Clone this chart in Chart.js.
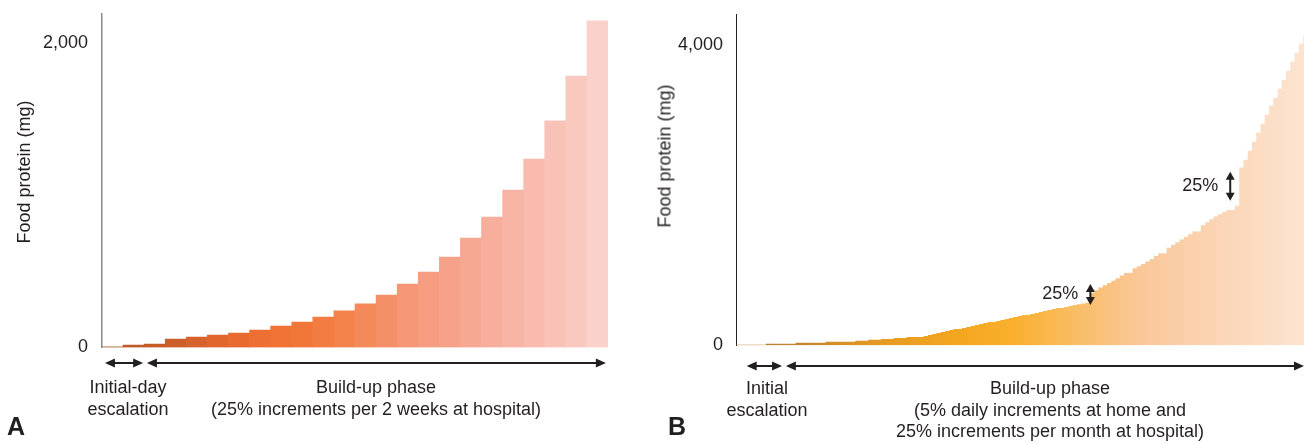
<!DOCTYPE html>
<html>
<head>
<meta charset="utf-8">
<script src="https://cdn.jsdelivr.net/npm/chart.js@4.4.1/dist/chart.umd.min.js"></script>
<style>
  body { margin: 0; background: #fff; }
  #wrap { position: relative; width: 1304px; height: 444px; overflow: hidden;
          font-family: "Liberation Sans", Arial, sans-serif; color: #231f20; }
  canvas { position: absolute; top: 0; }
  .txt { position: absolute; font-size: 18px; line-height: 21.5px; text-align: center;
         white-space: nowrap; transform: translateX(-50%); }
  .ytitle { position: absolute; font-size: 18px; white-space: nowrap;
            transform: translate(-50%, -50%) rotate(-90deg); }
  .panel { position: absolute; font-size: 25px; font-weight: bold; line-height: 25px; }
</style>
</head>
<body>
<div id="wrap">
  <canvas id="chartA" width="640" height="444" style="left:0"></canvas>
  <canvas id="chartB" width="664" height="444" style="left:640px"></canvas>

  <div class="ytitle" style="left:24px; top:172px">Food protein (mg)</div>
  <div class="ytitle" style="left:665px; top:156px">Food protein (mg)</div>

  <div class="txt" style="left:128px; top:377px">Initial-day<br>escalation</div>
  <div class="txt" style="left:376px; top:377px">Build-up phase<br>(25% increments per 2 weeks at hospital)</div>
  <div class="txt" style="left:767px; top:378px">Initial<br>escalation</div>
  <div class="txt" style="left:1050px; top:378px">Build-up phase<br>(5% daily increments at home and<br>25% increments per month at hospital)</div>

  <div class="panel" style="left:7px; top:414px">A</div>
  <div class="panel" style="left:668px; top:414px">B</div>
</div>

<script>
const ink = '#231f20';

// Panel A: one bar per hospital dose step
const doseStepA = [1, 2, 3, 4, 5, 6, 7, 8, 9, 10, 11, 12, 13, 14, 15, 16, 17, 18, 19, 20, 21, 22, 23, 24];
const proteinA = [5, 16, 23, 56, 69, 82, 95, 115, 141, 167, 200, 240,
                  286, 345, 417, 496, 594, 719, 857, 1034, 1238, 1488, 1783, 2145];
const tickValuesA = [0, 2000];

// Panel B: dose (mg) from the given day onwards
const dayB = [0, 7, 14, 21, 28, 31, 34, 37, 40, 44, 45, 46, 47, 48, 49, 50, 51,
              53, 54, 55, 56, 57, 58, 59, 61, 62, 63, 64, 65, 66, 67,
              69, 70, 71, 72, 73, 74, 75, 77, 78, 79, 80, 81, 82,
              83, 84, 85, 86, 87, 88, 89, 90, 91, 93, 94, 95, 96, 97, 98, 99,
              101, 102, 103, 104, 105, 106, 107, 109, 110, 111, 112, 113, 114, 115, 117,
              118, 119, 120, 121, 122, 123, 124, 125, 126, 127, 128, 129, 130, 131, 132, 133];
const proteinB = [10, 24, 37, 51, 64, 77, 87, 100, 113, 126, 140, 153, 166, 180, 193, 206, 220,
                  233, 246, 260, 273, 286, 300, 313, 326, 340, 353, 366, 380, 393, 406,
                  420, 433, 446, 460, 473, 486, 499, 513, 526, 540, 550, 560, 570,
                  700, 735, 770, 800, 830, 860, 895, 930, 965, 1028, 1055, 1085, 1116, 1150, 1190, 1228,
                  1300, 1340, 1375, 1410, 1445, 1480, 1515, 1600, 1640, 1680, 1715, 1745, 1775, 1804, 1860,
                  2368, 2470, 2590, 2710, 2830, 2949, 3069, 3189, 3296, 3415, 3535, 3655, 3775, 3895, 4015, 4121];
const tickValuesB = [0, 4000];

// colours
const barColorsA = ['#b45e2c', '#c05a28', '#c65b28', '#cd5e29', '#d8622b', '#e0662d', '#e86a2f', '#ee6f33',
                    '#f07334', '#f17738', '#f27c42', '#f3824b', '#f48a5a', '#f49068', '#f59674', '#f69c80',
                    '#f6a28a', '#f7a893', '#f7ae9c', '#f8b5a6', '#f8bbae', '#f9c2b7', '#f9c9c0', '#fad2cb'];
const fadeStopsB = [[0, '#b47a34'], [0.11, '#c48530'], [0.25, '#e49a22'], [0.40, '#f6a720'],
                    [0.49, '#f9b02e'], [0.60, '#f9bd66'], [0.71, '#fac798'], [0.88, '#fbd8bb'], [1, '#fde4d1']];

Chart.defaults.font.family = '"Liberation Sans", Arial, sans-serif';
Chart.defaults.font.size = 18;
Chart.defaults.color = ink;

function head(ctx, tx, ty, dx, dy, len, half) {
  // filled triangle with tip at (tx, ty) pointing along (dx, dy)
  ctx.beginPath();
  ctx.moveTo(tx, ty);
  ctx.lineTo(tx - dx * len - dy * half, ty - dy * len + dx * half);
  ctx.lineTo(tx - dx * len + dy * half, ty - dy * len - dx * half);
  ctx.closePath();
  ctx.fill();
}

const phaseArrows = {
  id: 'phaseArrows',
  afterDraw(chart, args, opts) {
    const {ctx, scales: {x, y}} = chart;
    ctx.save();
    ctx.strokeStyle = ink;
    ctx.fillStyle = ink;
    ctx.lineWidth = 2;
    (opts.spans || []).forEach(([a, b]) => {
      const x0 = x.getPixelForValue(a), x1 = x.getPixelForValue(b);
      ctx.beginPath();
      ctx.moveTo(x0 + 6, opts.y);
      ctx.lineTo(x1 - 6, opts.y);
      ctx.stroke();
      head(ctx, x0, opts.y, -1, 0, 10, 4.5);
      head(ctx, x1, opts.y, 1, 0, 10, 4.5);
    });
    (opts.marks || []).forEach(m => {
      const px = x.getPixelForValue(m.x);
      const yLow = y.getPixelForValue(m.from), yHigh = y.getPixelForValue(m.to);
      ctx.beginPath();
      ctx.moveTo(px, yLow - 5);
      ctx.lineTo(px, yHigh + 5);
      ctx.stroke();
      head(ctx, px, yHigh, 0, -1, 8, 4.5);
      head(ctx, px, yLow, 0, 1, 8, 4.5);
      ctx.font = '18px "Liberation Sans", Arial, sans-serif';
      ctx.textAlign = 'right';
      ctx.textBaseline = 'middle';
      ctx.fillText(m.label, px - 12, (yLow + yHigh) / 2);
    });
    ctx.restore();
  }
};

function yAxis(max, ticks, width, pad, borderColor, borderWidth) {
  return {
    min: 0,
    max: max,
    afterBuildTicks: (axis) => { axis.ticks = ticks.map(v => ({value: v})); },
    afterFit: (scale) => {
      scale.width = width;
      scale.paddingTop = 0;
      scale.paddingBottom = 0;
    },
    grid: {display: false, drawTicks: false},
    border: {display: true, color: borderColor, width: borderWidth},
    ticks: {padding: pad, color: ink, callback: (v) => v.toLocaleString('en-US')}
  };
}

new Chart(document.getElementById('chartA'), {
  type: 'bar',
  data: {
    labels: doseStepA,
    datasets: [{
      data: proteinA,
      backgroundColor: barColorsA,
      borderWidth: 0,
      barPercentage: 1,
      categoryPercentage: 1
    }]
  },
  options: {
    responsive: false,
    animation: false,
    layout: {padding: {left: 0, top: 14, right: 32, bottom: 96.5}},
    scales: {
      x: {display: false},
      y: yAxis(2190, tickValuesA, 102, 14, '#8a8a8a', 1.5)
    },
    plugins: {
      legend: {display: false},
      tooltip: {enabled: false},
      phaseArrows: {y: 363, spans: [[-0.36, 1.45], [1.63, 23.4]]}
    }
  },
  plugins: [phaseArrows]
});

const stepsB = dayB.map((d, i) => ({x: d, y: proteinB[i]}));
const xMaxB = 133.2;
stepsB.push({x: xMaxB, y: proteinB[proteinB.length - 1]});

new Chart(document.getElementById('chartB'), {
  type: 'line',
  data: {
    datasets: [{
      data: stepsB,
      stepped: true,
      fill: 'origin',
      borderWidth: 0,
      pointRadius: 0,
      backgroundColor: (c) => {
        const area = c.chart.chartArea;
        if (!area) return fadeStopsB[0][1];
        const g = c.chart.ctx.createLinearGradient(area.left, 0, area.right, 0);
        fadeStopsB.forEach(([t, col]) => g.addColorStop(t, col));
        return g;
      }
    }]
  },
  options: {
    responsive: false,
    animation: false,
    layout: {padding: {left: 0, top: 14, right: 0, bottom: 98.5}},
    scales: {
      x: {type: 'linear', display: false, min: 0, max: xMaxB},
      y: yAxis(4410, tickValuesB, 96, 13, ink, 1)
    },
    plugins: {
      legend: {display: false},
      tooltip: {enabled: false},
      phaseArrows: {
        y: 366,
        spans: [[2.5, 10.8], [11.7, xMaxB]],
        marks: [
          {x: 83.1, from: 539, to: 819, label: '25%'},
          {x: 115.9, from: 1924, to: 2310, label: '25%'}
        ]
      }
    }
  },
  plugins: [phaseArrows]
});
</script>
</body>
</html>
